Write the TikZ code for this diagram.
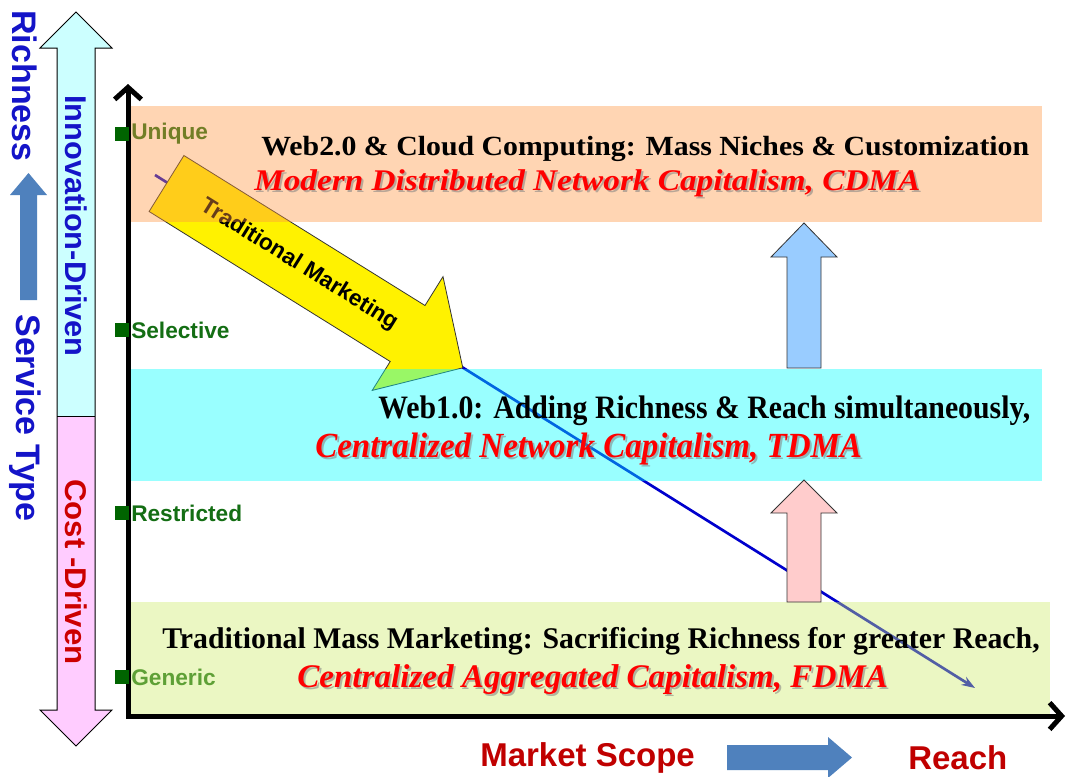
\documentclass[tikz,border=0pt]{standalone}
\usepackage{fontspec}
\setmainfont{Liberation Serif}
\setsansfont{Liberation Sans}
\usepackage{graphicx}
\usetikzlibrary{arrows.meta}
\newcommand\fitw[2]{\resizebox{#1}{\height}{#2}}
\definecolor{bandOrange}{RGB}{255,150,65}
\definecolor{bandCyan}{RGB}{0,255,255}
\definecolor{bandGreen}{RGB}{205,235,105}
\definecolor{tickgreen}{RGB}{20,110,20}
\definecolor{sqgreen}{RGB}{0,100,0}
\definecolor{darkred}{RGB}{192,0,0}
\definecolor{costred}{RGB}{204,0,0}
\definecolor{richblue}{RGB}{20,20,200}
\definecolor{steel}{RGB}{79,129,189}
\definecolor{lightblue}{RGB}{153,204,255}
\definecolor{pinkish}{RGB}{255,204,204}
\definecolor{lcyan}{RGB}{204,255,255}
\definecolor{lpink}{RGB}{255,204,255}
\definecolor{linkblue}{RGB}{0,0,205}
\begin{document}
\begin{tikzpicture}[x=0.75pt,y=-0.75pt,
  band/.style={opacity=0.4},
  blockarrow/.style={draw=black!80,line width=0.6pt},
  ticksq/.style={fill=sqgreen,inner sep=0pt,minimum size=10.5pt},
  ticklab/.style={anchor=west,inner sep=0pt,text=tickgreen,font=\sffamily\bfseries\fontsize{17}{19}\selectfont},
  blackline/.style={anchor=base west,inner sep=0pt,font=\bfseries},
  redline/.style={anchor=base west,inner sep=0pt,text=red,font=\bfseries\itshape},
  shadowline/.style={anchor=base west,inner sep=0pt,text=black!50,opacity=0.55,font=\bfseries\itshape},
  sidelab/.style={rotate=-90,inner sep=0pt,font=\sffamily\bfseries\fontsize{25.5}{27}\selectfont,text=richblue},
  drivelab/.style={rotate=-90,inner sep=0pt,font=\sffamily\bfseries\fontsize{22.5}{24}\selectfont},
  bottomlab/.style={anchor=west,inner sep=0pt,text=darkred,font=\sffamily\bfseries\fontsize{24.75}{26}\selectfont},
  axis/.style={line width=3.75pt,line join=miter,{Straight Barb[length=9pt,width=20pt]}-{Straight Barb[length=9pt,width=20pt]}}
]
\useasboundingbox (0,0) rectangle (1070,776);
\fill[white] (0,0) rectangle (1070,776);

% diagonal trajectory line
\coordinate (ls) at (155,175);
\coordinate (le) at (975,688);
\draw[linkblue,line width=2pt,-{Stealth[length=10pt,width=7pt]}] (ls) -- (le);

% Traditional Marketing block arrow
\draw[blockarrow,fill=yellow] (183.9,155.5) -- (425.0,305.5) -- (443.0,276.6) -- (462.8,367.8)
  -- (372.2,390.4) -- (390.2,361.5) -- (149.1,211.5) -- cycle;
\node[rotate=-31.9,inner sep=0pt,font=\sffamily\bfseries\fontsize{17}{19}\selectfont] (tm) at (299,265) {Traditional Marketing};

% tick labels (under the bands)
\node[ticklab] (lu) at (131,134) {Unique};
\node[ticklab] (lse) at (131,330) {Selective};
\node[ticklab] (lr) at (131,513) {Restricted};
\node[ticklab] (lg) at (131,677) {Generic};

% bands
\fill[bandOrange,band] (130,106) rectangle (1042,222);
\fill[bandCyan,band] (130,369) rectangle (1042,481);
\fill[bandGreen,band] (130,602) rectangle (1050,715);

% band texts
\node[blackline,font=\bfseries\fontsize{20.8}{22}\selectfont] (w2) at (261,155)
  {\fitw{576pt}{Web2.0 \& Cloud Computing: Mass Niches \& Customization}};
\node[shadowline,font=\bfseries\itshape\fontsize{22.5}{24}\selectfont] (cdmas) at (256,192)
  {\fitw{499.5pt}{Modern Distributed Network Capitalism, CDMA}};
\node[redline,font=\bfseries\itshape\fontsize{22.5}{24}\selectfont] (cdma) at (254,190)
  {\fitw{499.5pt}{Modern Distributed Network Capitalism, CDMA}};

\node[blackline,font=\bfseries\fontsize{24.5}{26}\selectfont] (w1) at (378,418)
  {\fitw{489pt}{Web1.0: Adding Richness \& Reach simultaneously,}};
\node[shadowline,font=\bfseries\itshape\fontsize{26.5}{28}\selectfont] (tdmas) at (317,459)
  {\fitw{410pt}{Centralized Network Capitalism, TDMA}};
\node[redline,font=\bfseries\itshape\fontsize{26.5}{28}\selectfont] (tdma) at (315,457)
  {\fitw{410pt}{Centralized Network Capitalism, TDMA}};

\node[blackline,font=\bfseries\fontsize{22.5}{24}\selectfont] (tmm) at (162,648)
  {\fitw{658pt}{Traditional Mass Marketing: Sacrificing Richness for greater Reach,}};
\node[shadowline,font=\bfseries\itshape\fontsize{24.75}{26}\selectfont] (fdmas) at (299,689)
  {\fitw{443pt}{Centralized Aggregated Capitalism, FDMA}};
\node[redline,font=\bfseries\itshape\fontsize{24.75}{26}\selectfont] (fdma) at (297,687)
  {\fitw{443pt}{Centralized Aggregated Capitalism, FDMA}};

% up arrows between bands
\draw[blockarrow,fill=lightblue] (787,368) -- (787,257) -- (771,257) -- (804,223) -- (837,257) -- (821,257) -- (821,368) -- cycle;
\draw[blockarrow,fill=pinkish] (787,602) -- (787,513) -- (771,513) -- (804,480) -- (837,513) -- (821,513) -- (821,602) -- cycle;

% left double arrow
\fill[lcyan] (57,416) -- (57,48) -- (40,48) -- (76,12) -- (112,48) -- (95,48) -- (95,416) -- cycle;
\fill[lpink] (57,416) -- (57,710) -- (40,710) -- (76,746) -- (112,710) -- (95,710) -- (95,416) -- cycle;
\draw[black,line width=0.75pt] (57,48) -- (40,48) -- (76,12) -- (112,48) -- (95,48) -- (95,710) -- (112,710) -- (76,746) -- (40,710) -- (57,710) -- cycle;
\draw[black,line width=0.5pt] (57,416) -- (95,416);
\node[drivelab,text=richblue] (inno) at (76,226) {\fitw{196pt}{Innovation-Driven}};
\node[drivelab,text=costred] (cost) at (76,572) {\fitw{139pt}{Cost -Driven}};

% far-left labels
\node[sidelab] (rich) at (25,86) {Richness};
\fill[steel] (20,300) -- (20,195) -- (10,195) -- (28.5,173) -- (47,195) -- (37,195) -- (37,300) -- cycle;
\node[sidelab] (stype) at (25,418) {Service Type};

% axes
\coordinate (ytop) at (128,84);
\coordinate (O) at (128,716);
\coordinate (xend) at (1065,716);
\draw[axis] (ytop) -- (O) -- (xend);

% tick squares
\node[ticksq] (s1) at (122,134) {};
\node[ticksq] (s2) at (122,330) {};
\node[ticksq] (s3) at (122,513) {};
\node[ticksq] (s4) at (122,677) {};

% bottom labels
\node[bottomlab] (ms) at (480,758) {Market Scope};
\fill[steel] (727,745) -- (828,745) -- (828,737) -- (852,757.5) -- (828,778) -- (828,770) -- (727,770) -- cycle;
\node[bottomlab] (reach) at (908,758) {Reach};
\end{tikzpicture}
\end{document}
